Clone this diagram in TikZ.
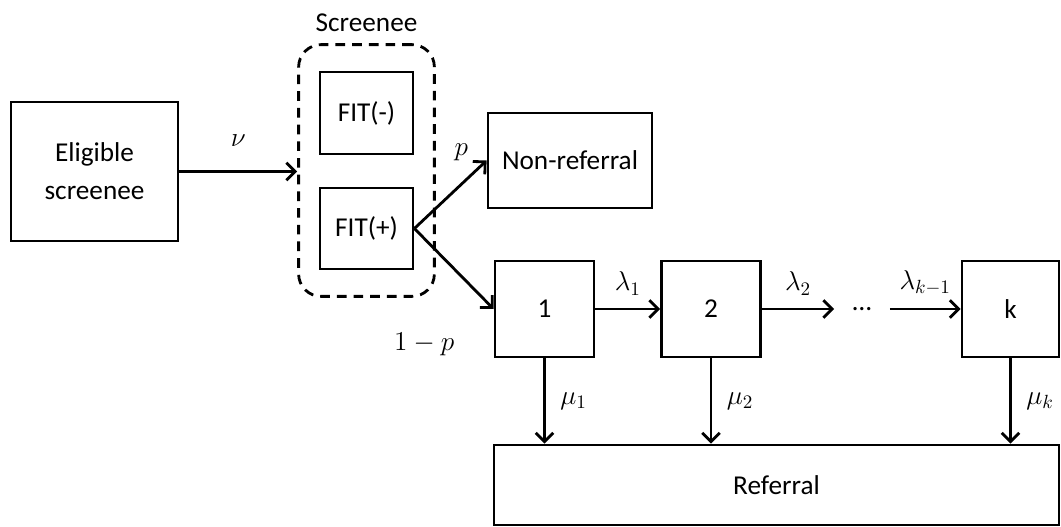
\RequirePackage{fix-cm}
\documentclass[tikz,border=0pt]{standalone}
\usepackage{amsmath, amssymb}
\usepackage{fontspec}
\setmainfont{Carlito}
\usetikzlibrary{arrows.meta, fit, positioning}

\tikzset{
  box/.style={draw, line width=1.6pt, inner sep=0pt, align=center},
  flow/.style={-{Straight Barb[length=5pt, width=10pt]}, line width=1.6pt},
}

\begin{document}
\fontsize{15.5}{21.5}\selectfont
\begin{tikzpicture}[x=0.02cm, y=-0.02cm, font=\fontsize{15.5}{21.5}\selectfont]
        \useasboundingbox (0,0) rectangle (1061,527);

        % Eligible population
        \node[box, minimum width=3.34cm, minimum height=2.78cm] (elig) at (94.5,171.5) {Eligible\\screenee};

        % FIT results, grouped in the dashed screenee box
        \node[box, minimum width=1.86cm, minimum height=1.64cm] (fitneg) at (366.5,113) {FIT(-)};
        \node[box, minimum width=1.86cm, minimum height=1.62cm] (fitpos) at (366.5,228.5) {FIT(+)};
        \node[draw, line width=1.6pt, dash pattern=on 5.5pt off 4pt, rounded corners=0.45cm,
              inner xsep=0.4cm, inner ysep=0.52cm, fit=(fitneg)(fitpos),
              label={[label distance=1pt]above:Screenee}] (screen) {};

        % Non-referral and the stages 1..k
        \node[box, minimum width=3.28cm, minimum height=1.9cm] (nonref) at (570,160.5) {Non-referral};
        \node[box, minimum width=1.98cm, minimum height=1.92cm] (s1) at (544.5,309) {1};
        \node[box, minimum width=1.98cm, minimum height=1.92cm] (s2) at (711,309) {2};
        \node[inner sep=0pt, minimum width=1.1cm] (dots) at (862,309) {…};
        \node[box, minimum width=1.94cm, minimum height=1.92cm] (sk) at (1010.5,309) {k};

        % Referral
        \node[box, minimum width=11.3cm, minimum height=1.6cm] (referral) at (776.5,485) {Referral};

        % Arrows
        \draw[flow] (elig.east) -- (elig.east -| screen.west) node[midway, above=8pt] {$\nu$};
        \draw[flow] (fitpos.east) -- (nonref.west) node[pos=0.8, above left=2pt, xshift=5pt] {$p$};
        \draw[flow] (fitpos.east) -- (s1.west) node[pos=0.95, below left=0.35cm and 0.5cm] {$1-p$};
        \draw[flow] (s1) -- (s2) node[midway, above=2pt] {$\lambda_1$};
        \draw[flow] (s2) -- (dots) node[midway, above=2pt] {$\lambda_2$};
        \draw[flow] (dots) -- (sk) node[midway, above=2pt] {$\lambda_{k-1}$};

        \draw[flow] (s1.south) -- (s1.south |- referral.north) node[midway, right=3pt] {$\mu_1$};
        \draw[flow] (s2.south) -- (s2.south |- referral.north) node[midway, right=3pt] {$\mu_2$};
        \draw[flow] (sk.south) -- (sk.south |- referral.north) node[midway, right=3pt] {$\mu_k$};

\end{tikzpicture}
\end{document}
